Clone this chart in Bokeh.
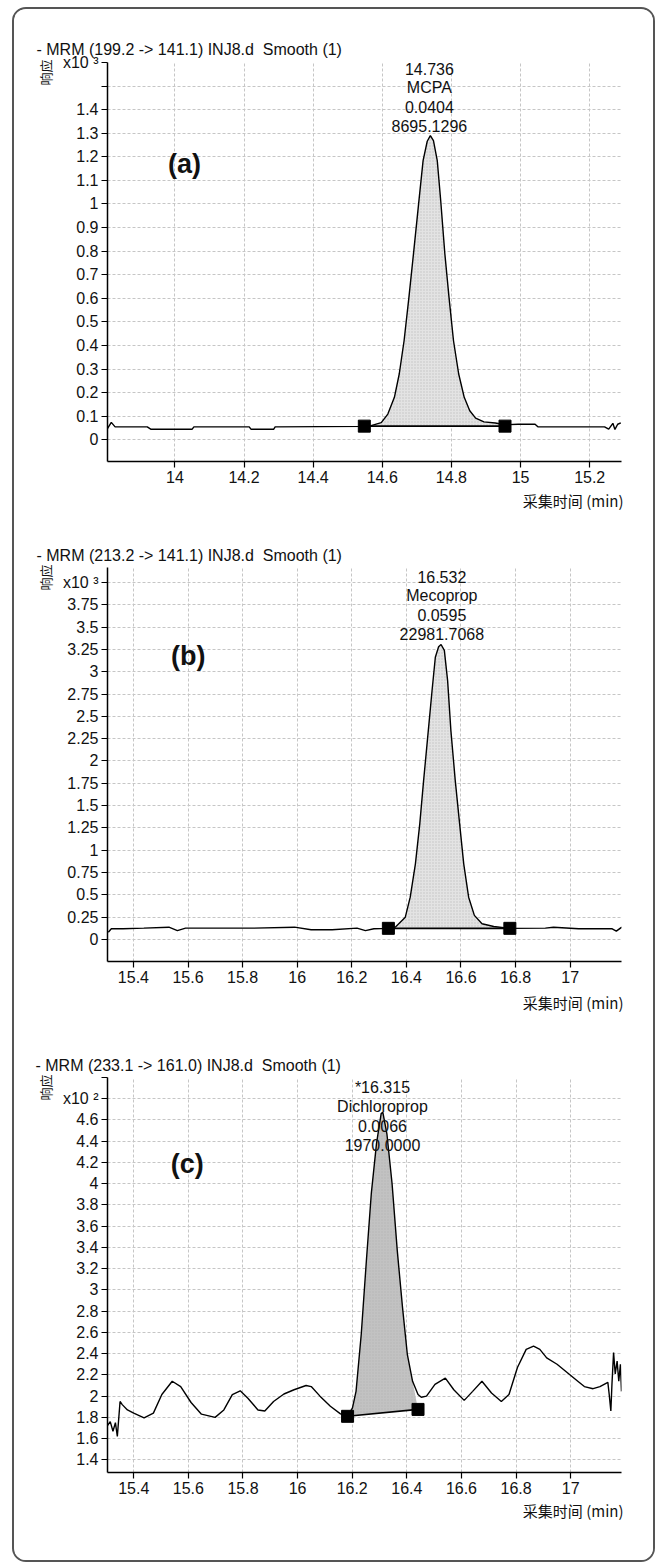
import numpy as np
from bokeh.plotting import figure
from bokeh.models import Label, FixedTicker, Range1d, Title
from bokeh.layouts import column
from bokeh.embed import file_html
from bokeh.resources import INLINE

# ---------------- data ----------------
# Panel (a): MCPA, response x10^3
time_a = [13.804, 13.816, 13.827, 13.92, 13.93, 14.05, 14.055, 14.215, 14.22, 14.286, 14.29,
          14.548, 14.565, 14.597, 14.616, 14.635, 14.649, 14.663, 14.677, 14.691, 14.706, 14.718,
          14.73, 14.739, 14.748, 14.759, 14.769, 14.781, 14.793, 14.806, 14.821, 14.837, 14.853,
          14.87, 14.894, 14.927, 14.955, 14.993, 15.042, 15.05, 15.243, 15.255, 15.267, 15.273,
          15.281, 15.29]
resp_a = [0.045, 0.074, 0.055, 0.055, 0.045, 0.045, 0.055, 0.055, 0.045, 0.045, 0.055,
          0.057, 0.059, 0.073, 0.109, 0.18, 0.279, 0.42, 0.604, 0.80, 1.014, 1.184,
          1.266, 1.29, 1.269, 1.184, 1.014, 0.788, 0.604, 0.42, 0.279, 0.18, 0.123,
          0.092, 0.076, 0.071, 0.064, 0.066, 0.066, 0.055, 0.055, 0.045, 0.07, 0.044,
          0.066, 0.072]
marker_t_a = [14.548, 14.955]
marker_r_a = [0.058, 0.058]
x_ticks_a = [14.0, 14.2, 14.4, 14.6, 14.8, 15.0, 15.2]
x_labels_a = ["14", "14.2", "14.4", "14.6", "14.8", "15", "15.2"]
y_ticks_a = [0.0, 0.1, 0.2, 0.3, 0.4, 0.5, 0.6, 0.7, 0.8, 0.9, 1.0, 1.1, 1.2, 1.3, 1.4, 1.5, 1.6]
y_labels_a = ["0", "0.1", "0.2", "0.3", "0.4", "0.5", "0.6", "0.7", "0.8", "0.9", "1",
              "1.1", "1.2", "1.3", "1.4", "", "x10 ³"]
title_a = "- MRM (199.2 -> 141.1) INJ8.d\u00a0\u00a0Smooth (1)"
peak_text_a = ["14.736", "MCPA", "0.0404", "8695.1296"]

# Panel (b): Mecoprop, response x10^3
time_b = [15.308, 15.319, 15.362, 15.438, 15.53, 15.561, 15.591, 15.683, 15.837, 15.99, 16.051,
          16.128, 16.219, 16.25, 16.281, 16.334, 16.36, 16.396, 16.414, 16.433, 16.449, 16.463,
          16.478, 16.494, 16.506, 16.518, 16.527, 16.539, 16.551, 16.563, 16.579, 16.595, 16.61,
          16.628, 16.649, 16.677, 16.72, 16.779, 16.909, 16.939, 17.031, 17.154, 17.169, 17.189]
resp_b = [0.082, 0.12, 0.12, 0.127, 0.138, 0.10, 0.127, 0.127, 0.127, 0.138, 0.109,
          0.109, 0.127, 0.10, 0.12, 0.125, 0.14, 0.25, 0.474, 0.848, 1.296, 1.78,
          2.267, 2.79, 3.163, 3.28, 3.305, 3.24, 2.90, 2.34, 1.78, 1.296, 0.848,
          0.474, 0.27, 0.176, 0.146, 0.125, 0.127, 0.138, 0.12, 0.12, 0.094, 0.138]
marker_t_b = [16.334, 16.779]
marker_r_b = [0.125, 0.125]
x_ticks_bc = [15.4, 15.6, 15.8, 16.0, 16.2, 16.4, 16.6, 16.8, 17.0]
x_labels_bc = ["15.4", "15.6", "15.8", "16", "16.2", "16.4", "16.6", "16.8", "17"]
y_ticks_b = [0.0, 0.25, 0.5, 0.75, 1.0, 1.25, 1.5, 1.75, 2.0, 2.25, 2.5, 2.75, 3.0, 3.25, 3.5, 3.75, 4.0]
y_labels_b = ["0", "0.25", "0.5", "0.75", "1", "1.25", "1.5", "1.75", "2", "2.25", "2.5",
              "2.75", "3", "3.25", "3.5", "3.75", "x10 ³"]
title_b = "- MRM (213.2 -> 141.1) INJ8.d\u00a0\u00a0Smooth (1)"
peak_text_b = ["16.532", "Mecoprop", "0.0595", "22981.7068"]

# Panel (c): Dichloroprop, response x10^2
time_c = [15.302, 15.314, 15.324, 15.333, 15.34, 15.35, 15.358, 15.377, 15.40, 15.438, 15.472,
          15.503, 15.541, 15.572, 15.61, 15.648, 15.698, 15.73, 15.761, 15.79, 15.818, 15.855,
          15.88, 15.912, 15.95, 15.987, 16.031, 16.05, 16.082, 16.12, 16.157, 16.183, 16.201,
          16.214, 16.233, 16.252, 16.27, 16.289, 16.306, 16.312, 16.327, 16.346, 16.365, 16.384,
          16.402, 16.421, 16.441, 16.453, 16.472, 16.503, 16.541, 16.572, 16.61, 16.641, 16.675,
          16.71, 16.746, 16.774, 16.805, 16.837, 16.864, 16.887, 16.912, 16.95, 16.988, 17.026,
          17.05, 17.082, 17.107, 17.136, 17.141, 17.147, 17.151, 17.157, 17.163, 17.17, 17.176,
          17.182, 17.186]
resp_c = [1.716, 1.76, 1.67, 1.75, 1.62, 1.95, 1.92, 1.87, 1.84, 1.795, 1.84,
          2.015, 2.14, 2.09, 1.94, 1.83, 1.80, 1.87, 2.015, 2.05, 1.98, 1.87,
          1.86, 1.95, 2.02, 2.06, 2.10, 2.09, 2.0, 1.905, 1.833, 1.81, 1.89,
          2.045, 2.58, 3.28, 3.91, 4.38, 4.66, 4.673, 4.47, 4.0, 3.37, 2.84,
          2.39, 2.14, 2.015, 1.99, 2.0, 2.11, 2.17, 2.06, 1.96, 2.045, 2.14,
          2.03, 1.95, 2.015, 2.27, 2.44, 2.47, 2.44, 2.36, 2.30, 2.22, 2.14,
          2.09, 2.07, 2.09, 2.13, 2.015, 1.86, 2.11, 2.41, 2.21, 2.33, 2.14,
          2.30, 2.045]
marker_t_c = [16.183, 16.441]
marker_r_c = [1.81, 1.875]
y_ticks_c = [1.4, 1.6, 1.8, 2.0, 2.2, 2.4, 2.6, 2.8, 3.0, 3.2, 3.4, 3.6, 3.8, 4.0, 4.2, 4.4, 4.6, 4.8, 5.0]
y_labels_c = ["1.4", "1.6", "1.8", "2", "2.2", "2.4", "2.6", "2.8", "3", "3.2", "3.4", "3.6",
              "3.8", "4", "4.2", "4.4", "4.6", "x10 ²", ""]
title_c = "- MRM (233.1 -> 161.0) INJ8.d\u00a0\u00a0Smooth (1)"
peak_text_c = ["*16.315", "Dichloroprop", "0.0066", "1970.0000"]

y_axis_name = "响应"
x_axis_name = "采集时间 (min)"
panel_tags = ["(a)", "(b)", "(c)"]

assert len(time_a) == len(resp_a) and len(time_b) == len(resp_b) and len(time_c) == len(resp_c)

# ---------------- layout ----------------
FONT = "Liberation Sans"
CJK = "Noto Sans CJK SC"
W = 639
PAGE_LEFT = 14  # page x of figure left edge

panels = [
    dict(t=time_a, r=resp_a, mt=marker_t_a, mr=marker_r_a, xt=x_ticks_a, xl=x_labels_a,
         yt=y_ticks_a, yl=y_labels_a, title=title_a, peak=peak_text_a, tag=panel_tags[0],
         xr=(13.805, 15.292), yr=(-0.092, 1.6), top=9, h=516, mbt=53, mbb=64, mbl=92, mbr=20,
         fill="#e3e3e3", tag_xy=(185, 163), peak_x=436, peak_y=[68, 87, 106, 125],
         title_standoff=10, xname_standoff=4),
    dict(t=time_b, r=resp_b, mt=marker_t_b, mr=marker_r_b, xt=x_ticks_bc, xl=x_labels_bc,
         yt=y_ticks_b, yl=y_labels_b, title=title_b, peak=peak_text_b, tag=panel_tags[1],
         xr=(15.305, 17.188), yr=(-0.2465, 4.168), top=525, h=510, mbt=42, mbb=74, mbl=92, mbr=32,
         fill="#e3e3e3", tag_xy=(187, 655), peak_x=441, peak_y=[576, 595, 614, 633],
         title_standoff=7, xname_standoff=9),
    dict(t=time_c, r=resp_c, mt=marker_t_c, mr=marker_r_c, xt=x_ticks_bc, xl=x_labels_bc,
         yt=y_ticks_c, yl=y_labels_c, title=title_c, peak=peak_text_c, tag=panel_tags[2],
         xr=(15.304, 17.186), yr=(1.281, 5.0), top=1035, h=525, mbt=42, mbb=88, mbl=93, mbr=31,
         fill="#c2c2c2", tag_xy=(187, 1163), peak_x=382.5, peak_y=[1087, 1106, 1125, 1144],
         title_standoff=7, xname_standoff=3),
]


def make_panel(c):
    p = figure(width=W, height=c["h"], output_backend="svg", toolbar_location=None,
               x_range=Range1d(*c["xr"]), y_range=Range1d(*c["yr"]),
               min_border_left=c["mbl"], min_border_right=c["mbr"],
               min_border_top=c["mbt"], min_border_bottom=c["mbb"])
    p.outline_line_color = None
    p.background_fill_color = "white"
    p.border_fill_color = "white"

    # frame in page pixels (used only to place the in-frame texts)
    fl = PAGE_LEFT + c["mbl"]
    fr = PAGE_LEFT + W - c["mbr"]
    ft = c["top"] + c["mbt"]
    fb = c["top"] + c["h"] - c["mbb"]
    x0, x1 = c["xr"]
    y0, y1 = c["yr"]

    def dx(X):
        return x0 + (X - fl) / (fr - fl) * (x1 - x0)

    def dy(Y):
        return y1 - (Y - ft) / (fb - ft) * (y1 - y0)

    # axes
    xt = FixedTicker(ticks=c["xt"])
    yt = FixedTicker(ticks=c["yt"])
    p.xaxis.ticker = xt
    p.yaxis.ticker = yt
    p.xgrid.ticker = xt
    p.ygrid.ticker = yt
    p.xaxis.major_label_overrides = dict(zip(c["xt"], c["xl"]))
    p.yaxis.major_label_overrides = dict(zip(c["yt"], c["yl"]))
    for ax in (p.xaxis, p.yaxis):
        ax.axis_line_color = "black"
        ax.axis_line_width = 1.5
        ax.major_tick_in = 0
        ax.major_tick_out = 6
        ax.major_tick_line_color = "black"
        ax.major_tick_line_width = 1.2
        ax.minor_tick_line_color = None
        ax.major_label_text_font = FONT
        ax.major_label_text_font_size = "16px"
        ax.major_label_text_color = "#111111"
    p.yaxis.major_label_standoff = 3
    p.xaxis.major_label_standoff = 3
    for g in (p.xgrid, p.ygrid):
        g.grid_line_color = "#c6c6c6"
        g.grid_line_dash = "3 2"
        g.grid_line_width = 1

    # titles placed in the side panels
    p.add_layout(Title(text=c["title"], align="left", offset=-(fl - 35), standoff=c["title_standoff"],
                       text_font=FONT, text_font_size="16px", text_font_style="normal",
                       text_color="#111111"), "above")
    p.add_layout(Title(text=x_axis_name, align="right", offset=-2, standoff=c["xname_standoff"],
                       text_font=CJK, text_font_size="15px", text_font_style="normal",
                       text_color="#111111"), "below")
    p.add_layout(Title(text=y_axis_name, align="right", offset=-3, standoff=10,
                       text_font=CJK, text_font_size="13px", text_font_style="normal",
                       text_color="#111111"), "left")

    # peak area
    t = np.array(c["t"])
    r = np.array(c["r"])
    m1, m2 = c["mt"]
    inside = (t > m1) & (t < m2)
    px = [m1] + list(t[inside]) + [m2]
    py = [c["mr"][0]] + list(r[inside]) + [c["mr"][1]]
    p.patch(px, py, fill_color=c["fill"], line_color=None,
            hatch_pattern="dot", hatch_color="#a8a8a8", hatch_scale=3, hatch_weight=0.6, hatch_alpha=0.6)
    p.line(c["mt"], c["mr"], line_color="black", line_width=1.6)
    p.line(c["t"], c["r"], line_color="black", line_width=1.4)
    p.scatter(c["mt"], c["mr"], marker="square", size=12, fill_color="black", line_color="black")

    # in-frame texts
    def lab(X, Y, text, size, align="left", bold=False):
        p.add_layout(Label(x=dx(X), y=dy(Y), text=text, text_font=FONT, text_font_size=size,
                           text_align=align, text_baseline="middle",
                           text_color="#111111", text_font_style="bold" if bold else "normal"))

    lab(c["tag_xy"][0], c["tag_xy"][1], c["tag"], "27px", align="center", bold=True)
    for txt, Y in zip(c["peak"], c["peak_y"]):
        lab(c["peak_x"], Y, txt, "16px", align="center")
    return p


figs = [make_panel(c) for c in panels]
layout = column(*figs, margin=(7, 0, 0, 12), spacing=0,
                styles={"border": "2px solid #555555", "border-radius": "14px", "overflow": "hidden"})

open("out.html", "w").write(file_html(layout, INLINE))
